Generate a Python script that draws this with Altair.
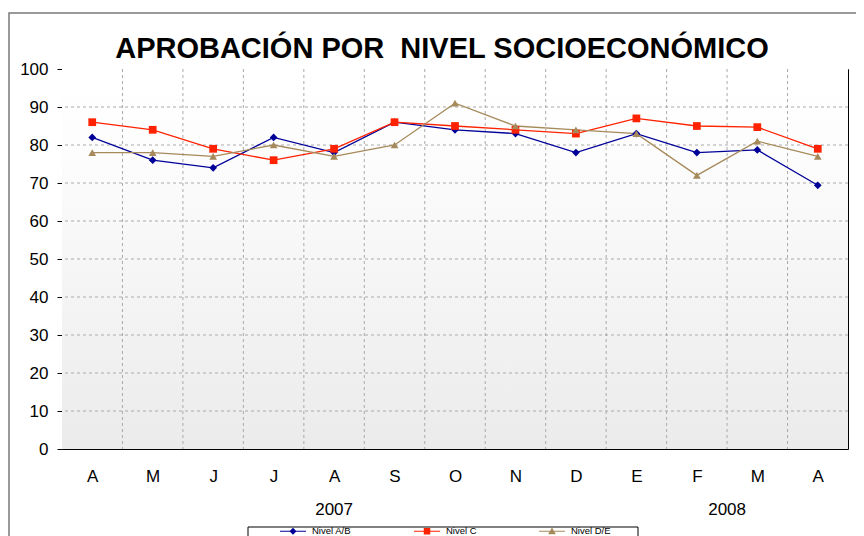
import altair as alt
import pandas as pd

title_text = "APROBACIÓN POR \u00a0NIVEL SOCIOECONÓMICO"
months = ["A", "M", "J", "J", "A", "S", "O", "N", "D", "E", "F", "M", "A"]
years = ["2007"] * 9 + ["2008"] * 4
series = ["Nivel A/B", "Nivel C", "Nivel D/E"]
nivel_ab = [82, 76, 74, 82, 78, 86, 84, 83, 78, 83, 78, 78.7, 69.4]
nivel_c = [86, 84, 79, 76, 79, 86, 85, 84, 83, 87, 85, 84.7, 79]
nivel_de = [78, 78, 77, 80, 77, 80, 91, 85, 84, 83, 72, 81, 77]
y_ticks = [0, 10, 20, 30, 40, 50, 60, 70, 80, 90, 100]
colors = ["#000099", "#ff2200", "#a68a5b"]
marker_shapes = ["diamond", "square", "triangle-up"]

# legend symbols: line with marker (custom paths)
_line = "M-1,-0.045H1V0.045H-1Z"
legend_shapes = [
    _line + "M0,-0.27L0.27,0L0,0.27L-0.27,0Z",
    _line + "M-0.25,-0.25H0.25V0.25H-0.25Z",
    _line + "M0,-0.28L0.3,0.24H-0.3Z",
]

rows = []
for name, vals in zip(series, [nivel_ab, nivel_c, nivel_de]):
    for i, (m, yr, v) in enumerate(zip(months, years, vals)):
        rows.append({"idx": i, "mes": m, "anio": yr, "serie": name, "valor": v})
df = pd.DataFrame(rows)

W, H = 786, 380
labels_js = "[" + ",".join(f"'{m}'" for m in months) + "]"

xscale = alt.Scale(domain=[-0.5, len(months) - 0.5], nice=False, zero=False)
yscale = alt.Scale(domain=[0, 100], nice=False)
color_scale = alt.Scale(domain=series, range=colors)

x_axis = alt.Axis(values=list(range(len(months))), labelExpr=f"{labels_js}[datum.value]",
                  grid=False, ticks=False, tickSize=0, domain=False, labelOverlap=False,
                  labelFontSize=17, labelPadding=19, labelColor="black", title=None)
y_axis = alt.Axis(values=y_ticks, tickCount=11, grid=False, domain=False, ticks=True, tickSize=5,
                  labelOverlap=False, labelFlush=False, tickColor="black",
                  labelFontSize=17, labelPadding=9, labelColor="black", title=None)

base = alt.Chart(df)

bg = alt.Chart(alt.Data(values=[{}])).mark_rect(
    color=alt.Gradient(
        gradient="linear", x1=0, x2=0, y1=0, y2=1,
        stops=[alt.GradientStop(offset=0, color="#ffffff"),
               alt.GradientStop(offset=0.2, color="#fdfdfd"),
               alt.GradientStop(offset=1, color="#ebebeb")],
    )
).encode(x=alt.value(0), x2=alt.value(W), y=alt.value(0), y2=alt.value(H))

vgrid = base.transform_filter(
    f"datum.serie == '{series[0]}' && datum.idx < {len(months) - 1}"
).transform_calculate(b="datum.idx + 0.5").mark_rule(
    color="#aaaaaa", strokeDash=[3, 3], strokeWidth=1
).encode(x=alt.X("b:Q", scale=xscale, axis=x_axis))

hgrid = alt.Chart(pd.DataFrame({"v": y_ticks})).transform_filter(
    "datum.v > 0 && datum.v < 100"
).mark_rule(color="#aaaaaa", strokeDash=[3, 3], strokeWidth=1).encode(
    y=alt.Y("v:Q", scale=yscale, axis=y_axis)
)

lines = base.mark_line(strokeWidth=1.3).encode(
    x=alt.X("idx:Q", scale=xscale, axis=x_axis),
    y=alt.Y("valor:Q", scale=yscale, axis=y_axis),
    color=alt.Color("serie:N", scale=color_scale),
    detail="serie:N",
)

point_layers = [
    base.transform_filter(f"datum.serie == '{name}'").mark_point(
        filled=True, size=60, opacity=1, shape=shp
    ).encode(
        x=alt.X("idx:Q", scale=xscale, axis=x_axis),
        y=alt.Y("valor:Q", scale=yscale, axis=y_axis),
        color=alt.Color("serie:N", scale=color_scale),
    )
    for name, shp in zip(series, marker_shapes)
]

leg = alt.Legend(title=None, orient="none", legendX=218, legendY=449,
                 direction="horizontal", columns=3, columnPadding=62,
                 labelFontSize=9.5, labelOffset=6, symbolSize=676,
                 padding=0, symbolStrokeWidth=0, labelColor="black")

legend_layer = base.transform_filter("false").mark_point(filled=True, size=676, opacity=1).encode(
    x=alt.X("idx:Q", scale=xscale, axis=x_axis),
    y=alt.Y("valor:Q", scale=yscale, axis=y_axis),
    color=alt.Color("serie:N", scale=color_scale, legend=leg),
    shape=alt.Shape("serie:N", scale=alt.Scale(domain=series, range=legend_shapes), legend=leg),
)

year_labels = base.transform_filter(f"datum.serie == '{series[0]}'").transform_aggregate(
    c="mean(idx)", groupby=["anio"]
).mark_text(fontSize=17, baseline="alphabetic", color="black").encode(
    x=alt.X("c:Q", scale=xscale, axis=x_axis),
    y=alt.value(446),
    text="anio:N",
)

title_layer = alt.Chart(alt.Data(values=[{"t": title_text}])).mark_text(
    fontSize=29, fontWeight="bold", baseline="alphabetic", align="center", color="black"
).encode(x=alt.value(380), y=alt.value(-11), text="t:N")

legend_box = alt.Chart(alt.Data(values=[{}])).mark_rect(
    filled=False, stroke="black", strokeWidth=1
).encode(x=alt.value(186), x2=alt.value(576), y=alt.value(458), y2=alt.value(476))

outer_frame = alt.Chart(alt.Data(values=[{}])).mark_rect(
    filled=False, stroke="#7a7a7a", strokeWidth=1.5
).encode(x=alt.value(-53), x2=alt.value(900), y=alt.value(-56), y2=alt.value(600))

chart = alt.layer(
    bg, vgrid, hgrid, lines, *point_layers, legend_layer, year_labels, title_layer,
    legend_box, outer_frame
).properties(
    width=W, height=H,
    autosize=alt.AutoSizeParams(type="none"),
    padding={"left": 54, "top": 61, "right": 8, "bottom": 87},
).configure(font="Liberation Sans").configure_view(stroke="black", strokeWidth=1)

chart.save("out.html", embed_options={"renderer": "svg", "actions": False})
